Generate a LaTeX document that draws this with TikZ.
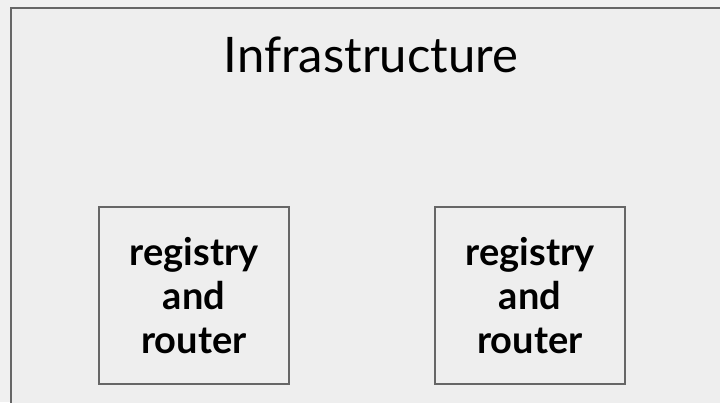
\documentclass[tikz,border=0pt]{standalone}
\usepackage{fontspec}
\setmainfont{Lato}
\definecolor{bgout}{HTML}{F0F0F0}
\definecolor{bgin}{HTML}{EEEEEE}
\definecolor{edge}{HTML}{666666}
\begin{document}
\begin{tikzpicture}[x=1pt,y=-1pt,
  regbox/.style={draw=edge,line width=1.5pt,minimum width=190pt,minimum height=177pt,inner sep=0pt},
  regtext/.style={align=center,font=\fontsize{38}{44}\selectfont\bfseries,anchor=base,inner sep=0pt}]
\useasboundingbox[fill=bgout] (0,0) rectangle (720,402);
\begin{scope}
\clip (0,0) rectangle (720,402);
\draw[draw=edge,fill=bgin,line width=2pt] (11,8) rectangle (740,420);
\end{scope}
\node[font=\fontsize{49}{49}\selectfont,anchor=base] (title) at (371,72) {Infrastructure};
\node[regbox] (r1) at (194,295.5) {};
\node[regbox] (r2) at (530,295.5) {};
\node[regtext] (t1) at (194,353) {registry\\and\\router};
\node[regtext] (t2) at (530,353) {registry\\and\\router};
\end{tikzpicture}
\end{document}
